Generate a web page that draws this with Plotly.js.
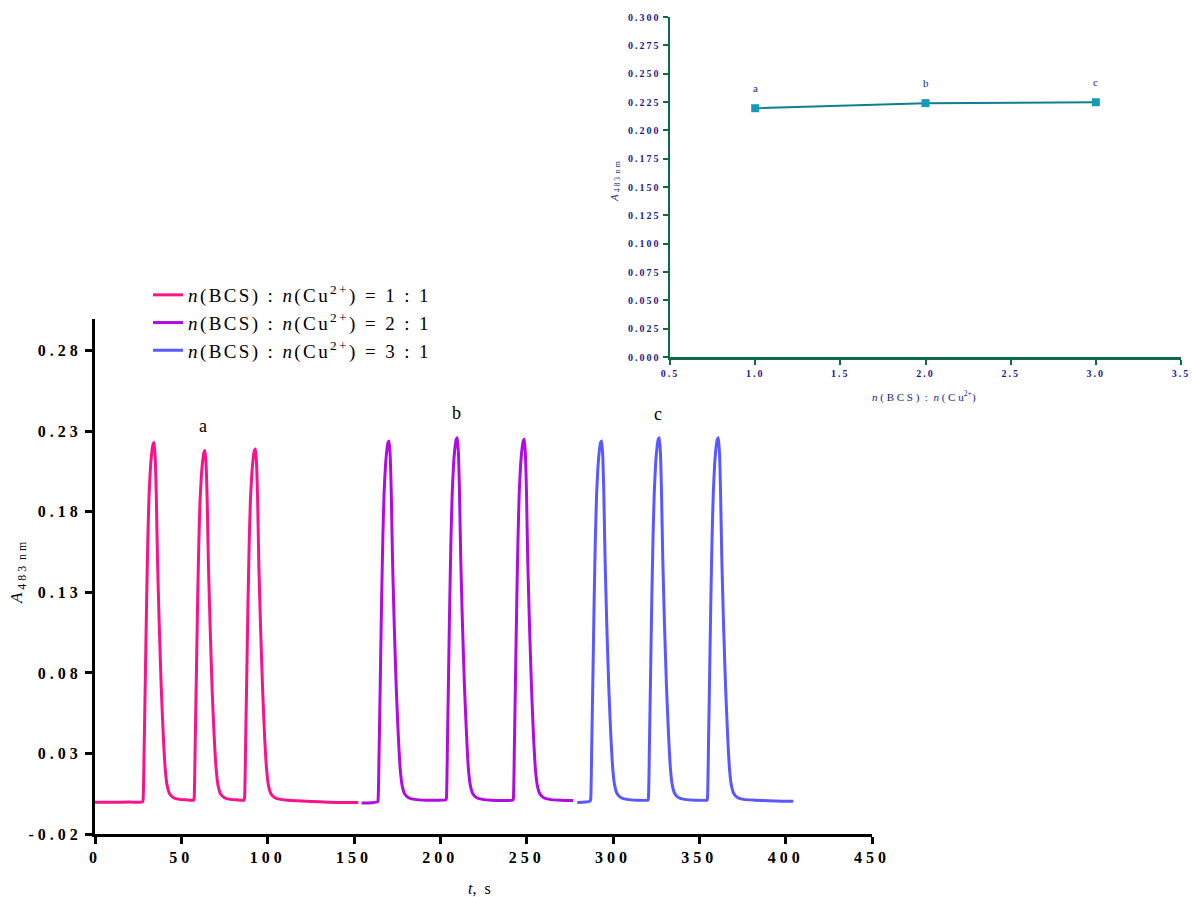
<!DOCTYPE html>
<html><head><meta charset="utf-8">
<script src="https://cdn.plot.ly/plotly-3.0.1.min.js"></script>
<style>
html,body{margin:0;padding:0;background:#fff;}
#chart{width:1192px;height:897px;}
.xtick text, .ytick text {letter-spacing:4px;}
.x2tick text, .y2tick text {letter-spacing:2px;}
.legendtext {letter-spacing:2.4px;}
</style>
</head><body>
<div id="chart"></div>
<script>
// ---- main plot: absorbance vs time ----
const t11 = [0, 10, 20, 27.6,
  27.9, 28.5, 29.2, 29.9, 30.6, 31.3, 32.1, 32.9, 33.6, 34.2, 34.9, 35.5, 36.2, 37.2, 38.4, 39.6, 40.7, 41.8, 43.2, 45.5, 48.9, 53, 57.1,
  57.4, 58.0, 58.7, 59.4, 60.1, 60.8, 61.6, 62.4, 63.1, 63.7, 64.4, 65.0, 65.7, 66.7, 67.9, 69.1, 70.2, 71.3, 72.7, 75.0, 78.4, 82, 86.3,
  86.6, 87.2, 87.9, 88.6, 89.3, 90.0, 90.8, 91.6, 92.3, 92.9, 93.6, 94.2, 94.9, 95.9, 97.1, 98.3, 99.4, 100.5, 101.9, 104.2, 107.6,
  112, 120, 130, 140, 152.5];
const A11 = [-0.0003, -0.0003, -0.0002, 0.0,
  0.002, 0.035, 0.080, 0.125, 0.163, 0.190, 0.207, 0.217, 0.222, 0.223, 0.213, 0.190, 0.150, 0.110, 0.070, 0.040, 0.020, 0.010, 0.005, 0.0025, 0.0015, 0.0012, 0.001,
  0.002, 0.034, 0.078, 0.122, 0.159, 0.186, 0.202, 0.212, 0.217, 0.218, 0.208, 0.186, 0.147, 0.108, 0.068, 0.039, 0.020, 0.010, 0.005, 0.0025, 0.0015, 0.0012, 0.001,
  0.002, 0.034, 0.079, 0.123, 0.160, 0.187, 0.203, 0.213, 0.218, 0.219, 0.209, 0.187, 0.147, 0.108, 0.069, 0.039, 0.020, 0.010, 0.005, 0.0025, 0.0015,
  0.001, 0.0005, 0.000, -0.0004, -0.0005];

const t21 = [154.4, 160, 163.7,
  164.0, 164.6, 165.3, 166.0, 166.7, 167.4, 168.2, 169.0, 169.7, 170.3, 171.0, 171.6, 172.3, 173.3, 174.5, 175.7, 176.8, 177.9, 179.3, 181.6, 185.0, 192, 198, 203.2,
  203.5, 204.1, 204.8, 205.5, 206.2, 206.9, 207.7, 208.5, 209.2, 209.8, 210.5, 211.1, 211.8, 212.8, 214.0, 215.2, 216.3, 217.4, 218.8, 221.1, 224.5, 230, 236, 242.0,
  242.3, 242.9, 243.6, 244.3, 245.0, 245.7, 246.5, 247.3, 248.0, 248.6, 249.3, 249.9, 250.6, 251.6, 252.8, 254.0, 255.1, 256.2, 257.6, 259.9, 263.3, 270, 277];
const A21 = [-0.0008, -0.0006, 0.000,
  0.002, 0.035, 0.080, 0.126, 0.164, 0.191, 0.208, 0.218, 0.223, 0.224, 0.214, 0.191, 0.151, 0.110, 0.070, 0.040, 0.020, 0.010, 0.005, 0.0025, 0.0015, 0.001, 0.001, 0.0012,
  0.002, 0.035, 0.081, 0.127, 0.165, 0.192, 0.210, 0.220, 0.225, 0.226, 0.216, 0.192, 0.152, 0.111, 0.071, 0.041, 0.020, 0.010, 0.005, 0.0025, 0.0015, 0.001, 0.0008, 0.001,
  0.002, 0.035, 0.081, 0.126, 0.164, 0.192, 0.209, 0.219, 0.224, 0.225, 0.215, 0.192, 0.151, 0.111, 0.071, 0.040, 0.020, 0.010, 0.005, 0.0025, 0.0015, 0.001, 0.0008];

const t31 = [279.3, 284, 286.8,
  287.1, 287.7, 288.4, 289.1, 289.8, 290.5, 291.3, 292.1, 292.8, 293.4, 294.1, 294.7, 295.4, 296.4, 297.6, 298.8, 299.9, 301.0, 302.4, 304.7, 308.1, 314, 320.2,
  320.5, 321.1, 321.8, 322.5, 323.2, 323.9, 324.7, 325.5, 326.2, 326.8, 327.5, 328.1, 328.8, 329.8, 331.0, 332.2, 333.3, 334.4, 335.8, 338.1, 341.5, 348, 354.4,
  354.7, 355.3, 356.0, 356.7, 357.4, 358.1, 358.9, 359.7, 360.4, 361.0, 361.7, 362.3, 363.0, 364.0, 365.2, 366.4, 367.5, 368.6, 370.0, 372.3, 375.7, 382, 390, 398, 404.4];
const A31 = [-0.0005, -0.0002, 0.0005,
  0.002, 0.035, 0.080, 0.126, 0.164, 0.191, 0.208, 0.218, 0.223, 0.224, 0.214, 0.191, 0.151, 0.110, 0.070, 0.040, 0.020, 0.010, 0.005, 0.0025, 0.0015, 0.001, 0.001,
  0.002, 0.035, 0.081, 0.127, 0.165, 0.192, 0.210, 0.220, 0.225, 0.226, 0.216, 0.192, 0.152, 0.111, 0.071, 0.041, 0.020, 0.010, 0.005, 0.0025, 0.0015, 0.001, 0.001,
  0.002, 0.035, 0.081, 0.127, 0.165, 0.192, 0.210, 0.220, 0.225, 0.226, 0.216, 0.192, 0.152, 0.111, 0.071, 0.041, 0.020, 0.010, 0.005, 0.0025, 0.0015, 0.001, 0.0006, 0.0004, 0.0004];

const seriesNames = [
  '<i>n</i>(BCS) : <i>n</i>(Cu<sup>2+</sup>) = 1 : 1',
  '<i>n</i>(BCS) : <i>n</i>(Cu<sup>2+</sup>) = 2 : 1',
  '<i>n</i>(BCS) : <i>n</i>(Cu<sup>2+</sup>) = 3 : 1'
];
const peakLabels = ['a', 'b', 'c'];
const peakLabelX = [62.5, 209.3, 326.3];
const peakLabelY = [0.233, 0.2415, 0.2405];

const yTickVals = [-0.02, 0.03, 0.08, 0.13, 0.18, 0.23, 0.28];
const yTickText = ['-0.02', '0.03', '0.08', '0.13', '0.18', '0.23', '0.28'];
const xTickVals = [0, 50, 100, 150, 200, 250, 300, 350, 400, 450];

// ---- inset: peak absorbance vs ratio ----
const ratio = [1.0, 2.0, 3.0];
const Amax = [0.2195, 0.2240, 0.2248];
const ratioLabels = ['a', 'b', 'c'];

const colors = ['#F8138A', '#B00CE2', '#5A58FF'];
const serif = 'Liberation Serif';
const navy = '#1C1C8A';
const green = '#0B6B44';

const traces = [
  {x: t11, y: A11, name: seriesNames[0]},
  {x: t21, y: A21, name: seriesNames[1]},
  {x: t31, y: A31, name: seriesNames[2]}
].map((tr, i) => Object.assign(tr, {
  type: 'scatter', mode: 'lines', xaxis: 'x', yaxis: 'y',
  line: {color: colors[i], width: 3, shape: 'spline', smoothing: 0.5}, showlegend: true
}));

traces.push({
  type: 'scatter', mode: 'lines+markers', x: ratio, y: Amax,
  xaxis: 'x2', yaxis: 'y2', showlegend: false,
  line: {color: '#0F7E96', width: 2},
  marker: {symbol: 'square', size: 8, color: '#159BB8'}
});

const ann = peakLabels.map((s, i) => ({
  x: peakLabelX[i], y: peakLabelY[i], xref: 'x', yref: 'y', text: s, showarrow: false,
  xanchor: 'center', yanchor: 'middle',
  font: {family: serif, size: 18, color: '#000'}
}));
ratioLabels.forEach((s, i) => ann.push({
  x: ratio[i], y: Amax[i], xref: 'x2', yref: 'y2', text: s, showarrow: false, yshift: 20,
  xanchor: 'center', yanchor: 'middle',
  font: {family: serif, size: 11, color: navy}
}));
ann.push(
  {xref: 'paper', yref: 'paper', x: 18/1192, y: (897-573)/897, xanchor: 'center', yanchor: 'middle',
   text: '<i>A</i><sub> 4 8 3  n m</sub>',
   textangle: -90, showarrow: false, font: {family: serif, size: 17, color: '#000'}},
  {xref: 'paper', yref: 'paper', x: 479/1192, y: (897-888)/897, xanchor: 'center', yanchor: 'middle',
   text: '<i>t</i>,  s',
   showarrow: false, font: {family: serif, size: 16, color: '#000'}},
  {xref: 'paper', yref: 'paper', x: 615/1192, y: (897-182)/897, xanchor: 'center', yanchor: 'middle',
   text: '<i>A</i><sub> 4 8 3  n m</sub>',
   textangle: -90, showarrow: false, font: {family: serif, size: 11, color: navy}},
  {xref: 'paper', yref: 'paper', x: 924/1192, y: (897-396)/897, xanchor: 'center', yanchor: 'middle',
   text: '<i>n</i> ( B C S )  :  <i>n</i> ( C u<sup>2+</sup>)',
   showarrow: false, font: {family: serif, size: 11, color: navy}}
);

const layout = {
  width: 1192, height: 897,
  margin: {l: 0, r: 0, t: 0, b: 0},
  paper_bgcolor: '#fff', plot_bgcolor: 'rgba(0,0,0,0)',
  showlegend: true,
  legend: {x: 148/1192, y: (897-276)/897, xanchor: 'left', yanchor: 'top',
    font: {family: serif, size: 19, color: '#000'}, bgcolor: 'rgba(0,0,0,0)', tracegroupgap: 0},
  xaxis: {domain: [95/1192, 872/1192], range: [0, 450], tickvals: xTickVals,
    showgrid: false, zeroline: false, showline: true, linecolor: '#000', linewidth: 3,
    ticks: 'outside', ticklen: 7, tickwidth: 3, tickcolor: '#000',
    tickfont: {family: serif, size: 16, color: '#000', weight: 'bold'}, anchor: 'y'},
  yaxis: {domain: [(897-834)/897, (897-318.5)/897], range: [-0.02, 0.30],
    tickvals: yTickVals, ticktext: yTickText,
    showgrid: false, zeroline: false, showline: true, linecolor: '#000', linewidth: 3,
    ticks: 'outside', ticklen: 7, tickwidth: 3, tickcolor: '#000',
    tickfont: {family: serif, size: 16, color: '#000', weight: 'bold'}, anchor: 'x'},
  xaxis2: {domain: [670/1192, 1181/1192], range: [0.5, 3.5], dtick: 0.5, tick0: 0.5, tickformat: '.1f',
    showgrid: false, zeroline: false, showline: true, linecolor: green, linewidth: 2.5,
    ticks: 'outside', ticklen: 5, tickwidth: 2, tickcolor: green,
    tickfont: {family: serif, size: 10, color: navy, weight: 'bold'}, anchor: 'y2'},
  yaxis2: {domain: [(897-357)/897, (897-17)/897], range: [0, 0.3], dtick: 0.025, tick0: 0, tickformat: '.3f',
    showgrid: false, zeroline: false, showline: true, linecolor: green, linewidth: 2.5,
    ticks: 'outside', ticklen: 5, tickwidth: 2, tickcolor: green,
    tickfont: {family: serif, size: 10, color: navy, weight: 'bold'}, anchor: 'x2'},
  annotations: ann
};

Plotly.newPlot('chart', traces, layout, {displayModeBar: false, staticPlot: true});
</script>
</body></html>
